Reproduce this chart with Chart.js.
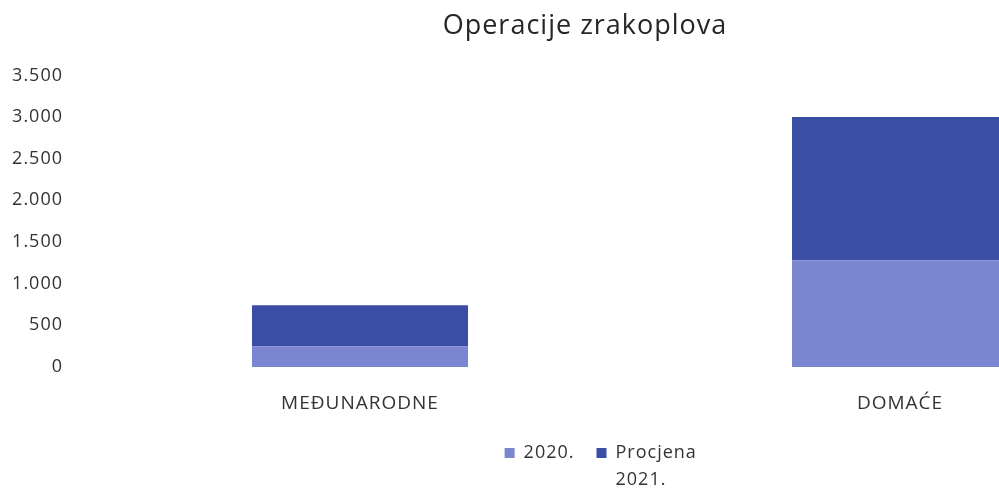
<!DOCTYPE html>
<html>
<head>
<meta charset="utf-8">
<script src="https://cdn.jsdelivr.net/npm/chart.js@4"></script>
<style>
  html, body { margin: 0; padding: 0; background: #fff; overflow: hidden; }
  #wrap { width: 1180px; height: 490px; }
</style>
</head>
<body>
<div id="wrap"><canvas id="barChart" width="1180" height="490"></canvas></div>
<script>
const categories = ['MEĐUNARODNE', 'DOMAĆE'];
const values2020 = [250, 1280];
const valuesProcjena = [490, 1720];
const seriesLabels = ['2020.', 'Procjena 2021.'];
const yTicks = [0, 500, 1000, 1500, 2000, 2500, 3000, 3500];

// thousands with a dot, like the original
function fmt(v) {
  return String(v).replace(/\B(?=(\d{3})+(?!\d))/g, '.');
}

const data = {
  labels: categories,
  datasets: [{
    label: seriesLabels[0],
    data: values2020,
    backgroundColor: '#7a86d0',
  }, {
    label: seriesLabels[1],
    data: valuesProcjena,
    backgroundColor: '#3a4ea6',
  }]
};

// wide letter spacing + room for the two-line legend entry
const tweaks = {
  id: 'tweaks',
  beforeUpdate(chart) {
    chart.ctx.letterSpacing = '1px';
    const lg = chart.legend;
    if (lg && !lg._fixed) {
      const fit = lg.fit;
      lg.fit = function () { fit.call(this); this.height += 18; };
      const draw = lg.draw;
      lg.draw = function () {
        chart.ctx.save();
        chart.ctx.translate(44, 0);
        draw.call(this);
        chart.ctx.restore();
      };
      lg._fixed = true;
    }
  },
  beforeDraw(chart) { chart.ctx.letterSpacing = '1px'; }
};

const ctx = document.getElementById('barChart');

new Chart(ctx, {
  type: 'bar',
  data,
  plugins: [tweaks],
  options: {
    responsive: false,
    animation: false,
    layout: { padding: { left: 0, right: 10, top: 0, bottom: 0 } },
    datasets: {
      bar: { categoryPercentage: 1, barPercentage: 0.4 }
    },
    plugins: {
      title: {
        display: true,
        text: 'Operacije zrakoplova',
        color: '#262626',
        font: { family: 'Open Sans', size: 27, weight: 'normal' },
        padding: { top: 10, bottom: 33 }
      },
      legend: {
        position: 'bottom',
        labels: {
          color: '#333',
          font: { family: 'Open Sans', size: 18, lineHeight: 1.5 },
          boxWidth: 10,
          boxHeight: 10,
          padding: 22,
          generateLabels(chart) {
            return chart.data.datasets.map((ds, i) => ({
              text: ds.label.indexOf(' ') > 0 ? ds.label.split(' ') : ds.label,
              fillStyle: ds.backgroundColor,
              strokeStyle: ds.backgroundColor,
              lineWidth: 0,
              fontColor: '#333',
              hidden: false,
              datasetIndex: i
            }));
          }
        }
      },
      tooltip: { enabled: false }
    },
    scales: {
      x: {
        stacked: true,
        grid: { display: false },
        border: { display: false },
        afterFit(scale) { scale.height = 55; },
        ticks: {
          color: '#333',
          font: { family: 'Open Sans', size: 19 },
          padding: 17
        }
      },
      y: {
        stacked: true,
        min: 0,
        max: 3500,
        afterBuildTicks(scale) {
          scale.ticks = yTicks.map(v => ({ value: v }));
        },
        afterFit(scale) { scale.width = 90; },
        grid: { display: false },
        border: { display: false },
        ticks: {
          color: '#333',
          font: { family: 'Open Sans', size: 18 },
          padding: 19,
          callback: v => fmt(v)
        }
      }
    }
  }
});
</script>
</body>
</html>
